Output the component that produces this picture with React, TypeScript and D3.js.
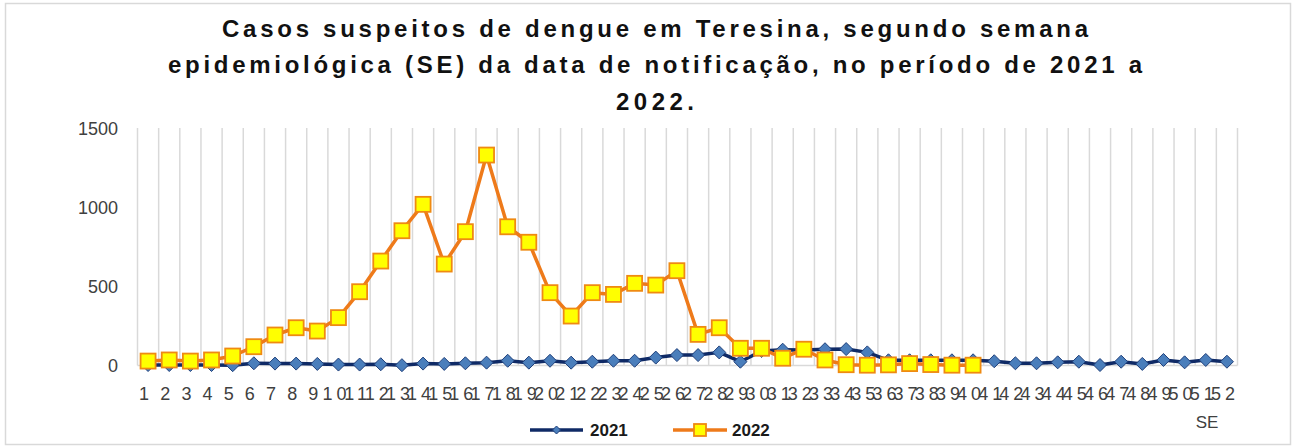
import React from 'react';
import * as d3 from 'd3';

// semanas epidemiológicas 1..52
const weeks = d3.range(1, 53);
const cases2021 = [3, 3, 3, 3, 2, 14, 12, 12, 10, 6, 6, 8, 2, 12, 10, 14, 18, 30, 18, 30, 18, 24, 30, 30, 50, 66,
    66, 83, 24, 92, 100, 98, 103, 104, 83, 33, 33, 33, 33, 33, 27, 14, 14, 20, 24, 3, 24, 10, 35, 20, 35, 24];
const cases2022 = [28, 35, 28, 35, 60, 119, 193, 239, 218, 303, 467, 661, 853, 1020, 642, 847, 1332, 878, 780, 461,
    313, 461, 450, 520, 509, 600, 197, 239, 109, 109, 46, 103, 35, 5, 2, 4, 12, 6, 2, 2];
const yTicks = [0, 500, 1000, 1500];
const titleLines = [
    'Casos suspeitos de dengue em Teresina, segundo semana',
    'epidemiológica (SE) da data de notificação, no período de 2021 a',
    '2022.',
];

const W = 1295, H = 448;
const FONT = '"Liberation Sans", Arial, sans-serif';

export default function App() {
    const x = d3.scaleBand<number>().domain(weeks).range([137.5, 1237.5]);
    const cx = (d: number) => (x(d) as number) + x.bandwidth() / 2;
    const y = d3.scaleLinear().domain([0, 1500]).range([365.5, 128.5]);

    const line = d3.line<number>().x((_, i) => cx(weeks[i])).y(v => y(v));
    // rotated square, like the excel marker
    const diamond = 'M0,-6.5L6.5,0L0,6.5L-6.5,0Z';
    const sq = 15;

    //title widths
    const titleY = [37, 73, 110];
    const titleLen = [866, 974, 78];

    return (
        <div style={{position: 'absolute', left: 0, top: 0}}>
            <svg width={W} height={H} style={{display: 'block', background: '#fff'}}>
                <rect x={5.5} y={3.5} width={1285} height={441} fill="#fff" stroke="#d9d9d9" strokeWidth={1.5} />

                {titleLines.map((t, i) => (
                    <text key={i} x={655} y={titleY[i]} textAnchor="middle" fontFamily={FONT} fontWeight="bold"
                          fontSize={24} fill="#111" textLength={titleLen[i]} lengthAdjust="spacing">{t}</text>
                ))}

                {/* vertical grid */}
                {weeks.map(d => (
                    <line key={d} x1={x(d)} x2={x(d)} y1={128} y2={365.5} stroke="#d9d9d9" strokeWidth={1.5} />
                ))}
                <line x1={x.range()[1]} x2={x.range()[1]} y1={128} y2={365.5} stroke="#d9d9d9" strokeWidth={1.5} />
                <line x1={x.range()[0]} x2={x.range()[1]} y1={y(0)} y2={y(0)} stroke="#d9d9d9" strokeWidth={1.5} />

                {/* y axis labels */}
                {yTicks.map(t => (
                    <text key={t} x={118} y={y(t) + 6} textAnchor="end" fontFamily={FONT} fontSize={18} fill="#404040">{t}</text>
                ))}

                {/* x axis labels */}
                {weeks.map(d => (
                    <text key={d} x={cx(d) - 2} y={400} textAnchor="middle" fontFamily={FONT} fontSize={18}
                          letterSpacing={4} fill="#404040">{d}</text>
                ))}
                <text x={1207} y={428} textAnchor="middle" fontFamily={FONT} fontSize={17} fill="#404040">SE</text>

                {/* 2021 */}
                <path d={line(cases2021) as string} fill="none" stroke="#0f2a66" strokeWidth={3.5} strokeLinejoin="round" />
                {cases2021.map((v, i) => (
                    <path key={i} d={diamond} transform={`translate(${cx(weeks[i])},${y(v)})`}
                          fill="#4a7ebb" stroke="#1f3f7a" strokeWidth={1} />
                ))}

                {/* 2022 */}
                <path d={line(cases2022) as string} fill="none" stroke="#ee7a1a" strokeWidth={3.5} strokeLinejoin="round" />
                {cases2022.map((v, i) => (
                    <rect key={i} x={cx(weeks[i]) - sq / 2} y={y(v) - sq / 2} width={sq} height={sq}
                          fill="#ffff00" stroke="#ef8a12" strokeWidth={1.8} />
                ))}

                {/* legend */}
                <g>
                    <line x1={530} x2={583} y1={430} y2={430} stroke="#0f2a66" strokeWidth={3.5} />
                    <path d="M0,-4L4,0L0,4L-4,0Z" transform="translate(556.5,430)" fill="#4a7ebb" stroke="#1f3f7a" />
                    <text x={590} y={436} fontFamily={FONT} fontWeight="bold" fontSize={17} fill="#1a1a1a">2021</text>

                    <line x1={673} x2={727} y1={430} y2={430} stroke="#ee7a1a" strokeWidth={3.5} />
                    <rect x={694} y={424} width={12} height={12} fill="#ffff00" stroke="#ef8a12" strokeWidth={1.8} />
                    <text x={732} y={436} fontFamily={FONT} fontWeight="bold" fontSize={17} fill="#1a1a1a">2022</text>
                </g>
            </svg>
        </div>
    );
}
